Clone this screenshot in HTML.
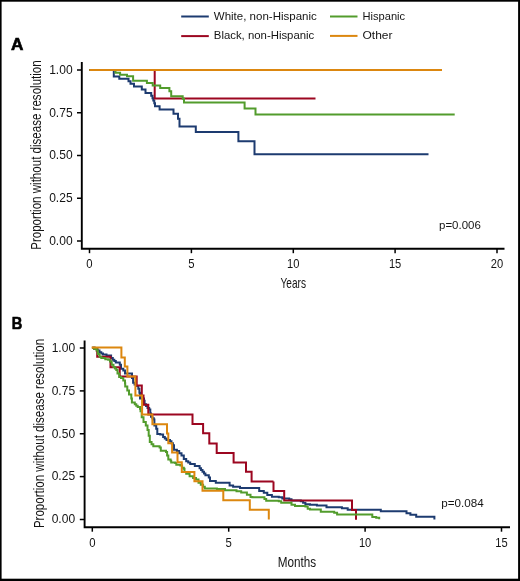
<!DOCTYPE html>
<html><head><meta charset="utf-8"><style>
html,body{margin:0;padding:0;background:#fff;width:520px;height:581px;overflow:hidden}
</style></head><body>
<svg width="520" height="581" viewBox="0 0 520 581" style="display:block;will-change:transform;font-family:'Liberation Sans', sans-serif">
<rect x="0" y="0" width="520" height="581" fill="#fff"/>
<path d="M181.2,16.5 H208.8" stroke="#1d3b70" stroke-width="2"/>
<path d="M181.2,36.1 H208.8" stroke="#9c0620" stroke-width="2"/>
<path d="M330,16.5 H357.5" stroke="#529c2c" stroke-width="2"/>
<path d="M330,35.9 H357.5" stroke="#dc870f" stroke-width="2"/>
<g font-size="11.2" fill="#141414">
<text x="213.8" y="19.9" textLength="103" lengthAdjust="spacingAndGlyphs">White, non-Hispanic</text>
<text x="213.8" y="39.2" textLength="100.5" lengthAdjust="spacingAndGlyphs">Black, non-Hispanic</text>
<text x="362.5" y="19.9" textLength="42.6" lengthAdjust="spacingAndGlyphs">Hispanic</text>
<text x="362.5" y="39.2" textLength="30" lengthAdjust="spacingAndGlyphs">Other</text>
</g>
<text x="11" y="50.3" font-size="16.4" font-weight="bold" stroke="#000" stroke-width="0.6" textLength="12.4"  lengthAdjust="spacingAndGlyphs">A</text>
<text x="11.8" y="328.8" font-size="16.4" font-weight="bold" stroke="#000" stroke-width="0.6" textLength="10.6"  lengthAdjust="spacingAndGlyphs">B</text>
<g fill="#141414">
<path d="M81.8,62.0 V248.7 H504.5" fill="none" stroke="#000" stroke-width="1.9" stroke-linejoin="miter"/>
<path d="M77.0,70.00 H81.8" stroke="#000" stroke-width="1.5"/>
<path d="M77.0,112.75 H81.8" stroke="#000" stroke-width="1.5"/>
<path d="M77.0,155.50 H81.8" stroke="#000" stroke-width="1.5"/>
<path d="M77.0,198.25 H81.8" stroke="#000" stroke-width="1.5"/>
<path d="M77.0,241.00 H81.8" stroke="#000" stroke-width="1.5"/>
<path d="M89.50,248.7 V253.2" stroke="#000" stroke-width="1.5"/>
<path d="M191.40,248.7 V253.2" stroke="#000" stroke-width="1.5"/>
<path d="M293.30,248.7 V253.2" stroke="#000" stroke-width="1.5"/>
<path d="M395.10,248.7 V253.2" stroke="#000" stroke-width="1.5"/>
<path d="M497.00,248.7 V253.2" stroke="#000" stroke-width="1.5"/>
<text x="72.6" y="73.80" text-anchor="end" font-size="12.9" textLength="23.4" lengthAdjust="spacingAndGlyphs">1.00</text>
<text x="72.6" y="116.55" text-anchor="end" font-size="12.9" textLength="23.4" lengthAdjust="spacingAndGlyphs">0.75</text>
<text x="72.6" y="159.30" text-anchor="end" font-size="12.9" textLength="23.4" lengthAdjust="spacingAndGlyphs">0.50</text>
<text x="72.6" y="202.05" text-anchor="end" font-size="12.9" textLength="23.4" lengthAdjust="spacingAndGlyphs">0.25</text>
<text x="72.6" y="244.80" text-anchor="end" font-size="12.9" textLength="23.4" lengthAdjust="spacingAndGlyphs">0.00</text>
<text x="89.50" y="268.0" text-anchor="middle" font-size="12.9" textLength="6.3" lengthAdjust="spacingAndGlyphs">0</text>
<text x="191.40" y="268.0" text-anchor="middle" font-size="12.9" textLength="6.3" lengthAdjust="spacingAndGlyphs">5</text>
<text x="293.30" y="268.0" text-anchor="middle" font-size="12.9" textLength="12.4" lengthAdjust="spacingAndGlyphs">10</text>
<text x="395.10" y="268.0" text-anchor="middle" font-size="12.9" textLength="12.4" lengthAdjust="spacingAndGlyphs">15</text>
<text x="497.00" y="268.0" text-anchor="middle" font-size="12.9" textLength="12.4" lengthAdjust="spacingAndGlyphs">20</text>
<text x="280.5" y="287.7" font-size="14.8" textLength="25.5" lengthAdjust="spacingAndGlyphs">Years</text>
<text transform="translate(41.0,249.8) rotate(-90)" x="0" y="0" font-size="14" textLength="189.5" lengthAdjust="spacingAndGlyphs">Proportion without disease resolution</text>
<text x="439.0" y="228.5" font-size="10.8" textLength="41.8" lengthAdjust="spacingAndGlyphs">p=0.006</text>
<path d="M84.6,340.5 V527.2 H510.0" fill="none" stroke="#000" stroke-width="1.9" stroke-linejoin="miter"/>
<path d="M79.8,348.00 H84.6" stroke="#000" stroke-width="1.5"/>
<path d="M79.8,390.90 H84.6" stroke="#000" stroke-width="1.5"/>
<path d="M79.8,433.75 H84.6" stroke="#000" stroke-width="1.5"/>
<path d="M79.8,476.60 H84.6" stroke="#000" stroke-width="1.5"/>
<path d="M79.8,519.50 H84.6" stroke="#000" stroke-width="1.5"/>
<path d="M92.30,527.2 V531.7" stroke="#000" stroke-width="1.5"/>
<path d="M228.70,527.2 V531.7" stroke="#000" stroke-width="1.5"/>
<path d="M365.10,527.2 V531.7" stroke="#000" stroke-width="1.5"/>
<path d="M501.50,527.2 V531.7" stroke="#000" stroke-width="1.5"/>
<text x="75.1" y="351.80" text-anchor="end" font-size="12.9" textLength="23.4" lengthAdjust="spacingAndGlyphs">1.00</text>
<text x="75.1" y="394.70" text-anchor="end" font-size="12.9" textLength="23.4" lengthAdjust="spacingAndGlyphs">0.75</text>
<text x="75.1" y="437.55" text-anchor="end" font-size="12.9" textLength="23.4" lengthAdjust="spacingAndGlyphs">0.50</text>
<text x="75.1" y="480.40" text-anchor="end" font-size="12.9" textLength="23.4" lengthAdjust="spacingAndGlyphs">0.25</text>
<text x="75.1" y="523.30" text-anchor="end" font-size="12.9" textLength="23.4" lengthAdjust="spacingAndGlyphs">0.00</text>
<text x="92.30" y="546.5" text-anchor="middle" font-size="12.9" textLength="6.3" lengthAdjust="spacingAndGlyphs">0</text>
<text x="228.70" y="546.5" text-anchor="middle" font-size="12.9" textLength="6.3" lengthAdjust="spacingAndGlyphs">5</text>
<text x="365.10" y="546.5" text-anchor="middle" font-size="12.9" textLength="12.4" lengthAdjust="spacingAndGlyphs">10</text>
<text x="501.50" y="546.5" text-anchor="middle" font-size="12.9" textLength="12.4" lengthAdjust="spacingAndGlyphs">15</text>
<text x="277.8" y="566.7" font-size="14.8" textLength="38.4" lengthAdjust="spacingAndGlyphs">Months</text>
<text transform="translate(43.6,528.1) rotate(-90)" x="0" y="0" font-size="14" textLength="189.2" lengthAdjust="spacingAndGlyphs">Proportion without disease resolution</text>
<text x="441.3" y="507.1" font-size="10.8" textLength="42.4" lengthAdjust="spacingAndGlyphs">p=0.084</text>
</g>
<path d="M89.5,70.0 H113.8 V76.4 H119.3 V78.7 H128.5 V81.3 H130.5 V83.8 H134.0 V86.5 H141.8 V89.5 H145.5 V92.9 H151.2 V95.8 H152.5 V98.2 H153.3 V100.6 H154.3 V103.3 H155.0 V106.2 H159.6 V109.6 H173.5 V113.7 H178.0 V118.8 H179.5 V126.6 H195.8 V132.0 H238.4 V141.2 H254.5 V154.3 H428.5" fill="none" stroke="#1d3b70" stroke-width="2.0" stroke-linejoin="miter" stroke-linecap="butt"/>
<path d="M89.5,70.0 H154.7 V98.4 H315.5" fill="none" stroke="#9c0620" stroke-width="2.0" stroke-linejoin="miter" stroke-linecap="butt"/>
<path d="M89.5,70.0 H115.5 V72.7 H120.1 V74.7 H127.0 V76.2 H133.1 V80.8 H146.9 V83.1 H152.7 V85.6 H160.2 V87.9 H169.4 V91.2 H171.2 V96.3 H182.7 V98.7 H184.0 V102.4 H244.6 V108.5 H255.5 V114.4 H454.7" fill="none" stroke="#529c2c" stroke-width="2.0" stroke-linejoin="miter" stroke-linecap="butt"/>
<path d="M89.5,69.9 H442.0" fill="none" stroke="#dc870f" stroke-width="2.0" stroke-linejoin="miter" stroke-linecap="butt"/>
<path d="M92.3,347.7 H94.90 V348.80 H97.50 V350.50 H99.50 V352.20 H101.30 V353.40 H103.00 V354.50 H106.50 V355.40 H111.10 V358.00 H112.80 V359.70 H114.30 V361.10 H115.80 V362.50 H119.80 V364.80 H121.00 V368.80 H123.30 V370.60 H125.00 V373.50 H132.00 V373.50 H132.00 V378.10 H133.10 V382.80 H134.55 V384.40 H136.00 V386.00 H138.30 V388.70 H139.40 V392.70 H140.00 V398.50 H144.00 V400.80 H144.60 V404.20 H146.05 V406.10 H147.50 V408.00 H149.20 V409.40 H150.30 V413.50 H151.00 V416.70 H152.40 V418.15 H153.80 V419.60 H154.40 V425.40 H156.20 V428.80 H157.30 V434.00 H160.20 V434.60 H163.10 V436.90 H164.80 V438.45 H166.50 V440.00 H170.00 V441.20 H171.45 V443.20 H172.90 V445.20 H174.00 V449.80 H176.90 V451.00 H179.20 V453.30 H181.50 V455.60 H183.80 V459.00 H186.20 V461.20 H188.20 V462.60 H190.20 V464.00 H194.80 V466.00 H199.60 V468.30 H201.05 V470.00 H202.50 V471.70 H203.95 V473.45 H205.40 V475.20 H208.80 V477.50 H210.00 V481.00 H215.80 V482.70 H227.30 V482.70 H229.60 V485.60 H233.10 V486.70 H240.00 V487.90 H256.60 V488.10 H259.20 V491.00 H263.80 V492.70 H267.30 V495.00 H271.90 V496.70 H278.80 V497.30 H282.30 V498.50 H289.20 V499.20 H291.50 V500.60 H300.80 V501.30 H303.10 V502.75 H305.40 V504.20 H310.00 V504.80 H316.90 V505.40 H326.50 V507.30 H341.90 V508.30 H347.70 V509.80 H380.80 V509.90 H380.80 V511.20 H405.20 V511.20 H406.50 V513.30 H410.40 V514.80 H416.20 V516.80 H434.40 V517.10 H434.40 V519.40" fill="none" stroke="#1d3b70" stroke-width="2.0" stroke-linejoin="miter" stroke-linecap="butt"/>
<path d="M92.3,347.7 H94.3 V349.1 H96.7 V350.5 H97.2 V354.0 V356.8 H110.5 V367.2 H119.7 V376.5 H136.7 V385.6 H141.8 V395.4 H143.5 V404.8 H148.3 V414.5 H192.5 V423.9 H203.1 V433.3 H209.3 V443.4 H216.7 V453.0 H233.6 V462.6 H246.0 V471.8 H251.6 V481.6 H273.5 V481.4 V490.9 H284.2 V500.4 H352.0 V509.9 H356.0 V519.8" fill="none" stroke="#9c0620" stroke-width="2.0" stroke-linejoin="miter" stroke-linecap="butt"/>
<path d="M92.3,347.7 H94.30 V349.10 H96.70 V350.50 H97.80 V354.00 H99.50 V356.80 H101.30 V358.00 H105.30 V359.20 H108.20 V359.70 H110.00 V361.50 H111.70 V364.80 H113.50 V367.10 H114.90 V368.55 H116.30 V370.00 H117.50 V373.50 H119.20 V376.90 H121.00 V378.10 H123.30 V380.40 H125.00 V383.30 H125.20 V386.50 H127.30 V390.40 H129.00 V394.40 H131.30 V398.50 H131.90 V402.50 H134.80 V404.20 H136.25 V405.65 H137.70 V407.10 H140.00 V408.80 H140.50 V411.20 H141.70 V414.60 H141.70 V417.30 H143.50 V421.90 H145.80 V425.40 H147.50 V430.00 H148.70 V435.80 H149.80 V442.10 H151.55 V444.20 H153.30 V446.30 H158.50 V446.30 H159.60 V447.50 H160.80 V450.70 H163.70 V450.70 H166.00 V452.10 H167.10 V455.60 H168.30 V459.60 H170.60 V460.80 H171.20 V462.50 H175.20 V463.10 H176.30 V464.80 H180.40 V465.40 H182.10 V467.70 H183.80 V468.80 H184.50 V472.10 H186.20 V473.80 H189.60 V476.20 H193.10 V477.90 H196.00 V479.60 H198.50 V482.70 H200.80 V484.70 H203.10 V486.70 H204.80 V488.50 H216.90 V489.00 H225.00 V490.20 H236.50 V491.30 H241.20 V492.50 H246.90 V494.80 H250.50 V496.90 H252.30 V497.30 H262.70 V497.30 H264.45 V499.05 H266.20 V500.80 H278.80 V501.30 H281.20 V502.80 H288.00 V502.80 H291.50 V504.80 H295.00 V506.00 H305.40 V506.50 H307.70 V508.80 H310.00 V509.40 H320.80 V511.70 H334.20 V512.70 H337.10 V514.60 H370.80 V514.60 H372.30 V516.90 H376.20 V517.70 H379.20 V519.20" fill="none" stroke="#529c2c" stroke-width="2.0" stroke-linejoin="miter" stroke-linecap="butt"/>
<path d="M91.6,347.6 H121.4 V357.4 H124.8 V366.6 H127.4 V376.4 H135.4 V395.4 H142.1 V414.6 H152.4 V424.2 H167.0 V433.5 H168.3 V443.3 H172.1 V452.5 H177.5 V462.2 H181.8 V472.0 H194.4 V481.3 H202.5 V490.8 H223.3 V500.3 H249.8 V509.8 H268.8 V519.6" fill="none" stroke="#dc870f" stroke-width="2.0" stroke-linejoin="miter" stroke-linecap="butt"/>
<g fill="#000"><rect x="0" y="0" width="520" height="1.7"/><rect x="0" y="0" width="1.6" height="581"/><rect x="518.1" y="0" width="1.9" height="581"/><rect x="0" y="578.7" width="520" height="2.3"/></g>
</svg>
</body></html>
